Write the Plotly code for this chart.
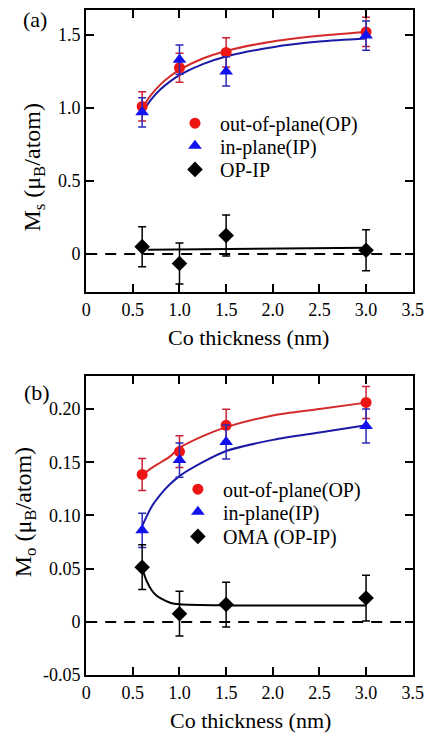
import plotly.graph_objects as go

# ---------------- data ----------------
thickness = [0.6, 1.0, 1.5, 3.0]

# panel (a): spin moment Ms
ms_op = [1.01, 1.275, 1.38, 1.52]
ms_op_err = [0.10, 0.10, 0.10, 0.10]
ms_ip = [0.97, 1.33, 1.25, 1.495]
ms_ip_err = [0.10, 0.10, 0.10, 0.10]
ms_diff = [0.05, -0.065, 0.126, 0.025]
ms_diff_err = [0.137, 0.14, 0.14, 0.14]

fit_x = [0.6, 0.7, 0.8, 0.9, 1.0, 1.25, 1.5, 2.0, 2.5, 3.0]
ms_op_fit = [1.00, 1.093, 1.163, 1.217, 1.26, 1.338, 1.39, 1.455, 1.494, 1.52]
ms_ip_fit = [0.97, 1.061, 1.129, 1.182, 1.225, 1.30, 1.352, 1.416, 1.454, 1.475]
ms_diff_fit_x = [0.66, 3.0]
ms_diff_fit = [0.029, 0.042]

# panel (b): orbital moment Mo
mo_op = [0.1385, 0.160, 0.1847, 0.2062]
mo_op_err = [0.015, 0.015, 0.015, 0.015]
mo_ip = [0.086, 0.152, 0.169, 0.184]
mo_ip_err = [0.016, 0.016, 0.016, 0.016]
mo_diff = [0.0514, 0.0077, 0.0163, 0.0224]
mo_diff_err = [0.021, 0.021, 0.021, 0.0215]

mo_op_fit = [0.138, 0.1445, 0.150, 0.1555, 0.1635, 0.1745, 0.183, 0.194, 0.200, 0.206]
mo_ip_fit = [0.090, 0.108, 0.120, 0.1295, 0.137, 0.150, 0.1605, 0.171, 0.178, 0.1847]
mo_diff_fit_x = [0.6, 0.65, 0.7, 0.75, 0.8, 0.9, 1.0, 1.5, 2.0, 3.0]
mo_diff_fit = [0.050, 0.038, 0.030, 0.025, 0.022, 0.018, 0.0165, 0.0155, 0.0155, 0.0155]

x_ticks = [0, 0.5, 1.0, 1.5, 2.0, 2.5, 3.0, 3.5]
x_ticktext = ["0", "0.5", "1.0", "1.5", "2.0", "2.5", "3.0", "3.5"]
ya_ticks = [0, 0.5, 1.0, 1.5]
ya_ticktext = ["0", "0.5", "1.0", "1.5"]
yb_ticks = [-0.05, 0, 0.05, 0.10, 0.15, 0.20]
yb_ticktext = ["-0.05", "0", "0.05", "0.10", "0.15", "0.20"]

# ---------------- style ----------------
FONT = "Liberation Serif, Times New Roman, Times, serif"
RED_M, RED_L, RED_E = "#ee1515", "#d42a2a", "#cc2035"
BLUE_M, BLUE_L, BLUE_E = "#1212ee", "#1a1aa6", "#2a2ab8"
BLACK = "#000000"

W, H = 434, 746
OFF = 8  # page body margin: the figure is drawn 8px right/down in the window
px = lambda v: min(1.0, max(0.0, (v - OFF) / W))        # window pixel -> paper x
py = lambda v: min(1.0, max(0.0, (H - (v - OFF)) / H))  # window pixel -> paper y

fig = go.Figure()

def fit_line(x, y, color, xa, ya):
    fig.add_trace(go.Scatter(x=x, y=y, mode="lines", line=dict(color=color, width=2, shape="spline", smoothing=0.8),
                             showlegend=False, hoverinfo="skip", xaxis=xa, yaxis=ya))

def data(y, err, name, symbol, size, mcolor, ecolor, xa, ya, legend):
    fig.add_trace(go.Scatter(x=thickness, y=y, mode="markers", name=name,
                             marker=dict(symbol=symbol, size=size, color=mcolor, line=dict(width=0)),
                             error_y=dict(type="data", array=err, color=ecolor, thickness=1.5, width=4),
                             xaxis=xa, yaxis=ya, legend=legend))

# panel (a)
fit_line(fit_x, ms_op_fit, RED_L, "x", "y")
fit_line(fit_x, ms_ip_fit, BLUE_L, "x", "y")
fit_line(ms_diff_fit_x, ms_diff_fit, BLACK, "x", "y")
data(ms_op, ms_op_err, "out-of-plane(OP)", "circle", 11, RED_M, RED_E, "x", "y", "legend")
data(ms_ip, ms_ip_err, "in-plane(IP)", "triangle-up", 12, BLUE_M, BLUE_E, "x", "y", "legend2")
data(ms_diff, ms_diff_err, "OP-IP", "diamond", 12, BLACK, BLACK, "x", "y", "legend3")

# panel (b)
fit_line(fit_x, mo_op_fit, RED_L, "x2", "y2")
fit_line(fit_x, mo_ip_fit, BLUE_L, "x2", "y2")
fit_line(mo_diff_fit_x, mo_diff_fit, BLACK, "x2", "y2")
data(mo_op, mo_op_err, "out-of-plane(OP)", "circle", 11, RED_M, RED_E, "x2", "y2", "legend4")
data(mo_ip, mo_ip_err, "in-plane(IP)", "triangle-up", 12, BLUE_M, BLUE_E, "x2", "y2", "legend5")
data(mo_diff, mo_diff_err, "OMA (OP-IP)", "diamond", 12, BLACK, BLACK, "x2", "y2", "legend6")

axis_common = dict(showline=True, linewidth=2, linecolor="black", mirror="ticks",
                   ticks="inside", ticklen=8, tickwidth=2, tickcolor="black",
                   showgrid=False, zeroline=False, ticklabeloverflow="allow",
                   tickfont=dict(family=FONT, size=18, color="black"))

def leg(xpix, ypix):
    return dict(x=px(xpix), y=py(ypix), xanchor="left", yanchor="middle",
                font=dict(family=FONT, size=20, color="black"), bgcolor="rgba(0,0,0,0)",
                itemwidth=40, borderwidth=0)

# legend symbol centre (a): x=196, rows 123/146/170 ; (b): x=199, rows 495/518/543
LA_X, LB_X = 196 - 25, 199 - 25

# panel (a) top frame sits at the top of the drawable area; keep the pixel scale
A_TOP_PIX = OFF
a_scale = 1.5 / (256 - 33.3)
a_top = 1.5 + (33.3 - A_TOP_PIX) * a_scale

fig.update_layout(
    width=W, height=H, margin=dict(l=0, r=0, t=0, b=0),
    paper_bgcolor="white", plot_bgcolor="white",
    xaxis=dict(domain=[px(84), px(423)], range=[0, 3.5], tickvals=x_ticks, ticktext=x_ticktext,
               anchor="y", **axis_common),
    yaxis=dict(domain=[py(295), py(A_TOP_PIX)], range=[-0.263, a_top], tickvals=ya_ticks, ticktext=ya_ticktext,
               anchor="x", **axis_common),
    xaxis2=dict(domain=[px(84), px(423)], range=[0, 3.5], tickvals=x_ticks, ticktext=x_ticktext,
                anchor="y2", **axis_common),
    yaxis2=dict(domain=[py(684), py(380)], range=[-0.05, 0.231], tickvals=yb_ticks, ticktext=yb_ticktext,
                anchor="x2", **axis_common),
    legend=leg(LA_X, 123),
    legend2=leg(LA_X, 146),
    legend3=leg(LA_X, 170),
    legend4=leg(LB_X, 495),
    legend5=leg(LB_X, 518),
    legend6=leg(LB_X, 543),
    showlegend=True,
)

# dashed zero lines
for xr, yr in (("x", "y"), ("x2", "y2")):
    fig.add_shape(type="line", xref=f"{xr} domain", yref=yr, x0=0, x1=1, y0=0, y1=0,
                  line=dict(color="black", width=2, dash="11px,8px"), layer="below")

ann_font = dict(family=FONT, color="black")
annotations = [
    dict(text="(a)", x=px(31), y=py(18), font=dict(size=22, **ann_font)),
    dict(text="(b)", x=px(33), y=py(397), font=dict(size=22, **ann_font)),
    dict(text="Co thickness (nm)", x=px(253), y=py(341), font=dict(size=22, **ann_font)),
    dict(text="Co thickness (nm)", x=px(255), y=py(730), font=dict(size=22, **ann_font)),
    dict(text="M<sub>s</sub> (μ<sub>B</sub>/atom)", x=px(30), y=py(168), textangle=-90, font=dict(size=24, **ann_font)),
    dict(text="M<sub>o</sub> (μ<sub>B</sub>/atom)", x=px(20), y=py(519), textangle=-90, font=dict(size=24, **ann_font)),
]
for a in annotations:
    fig.add_annotation(xref="paper", yref="paper", xanchor="center", yanchor="middle", showarrow=False, **a)

fig.write_html("out.html")
